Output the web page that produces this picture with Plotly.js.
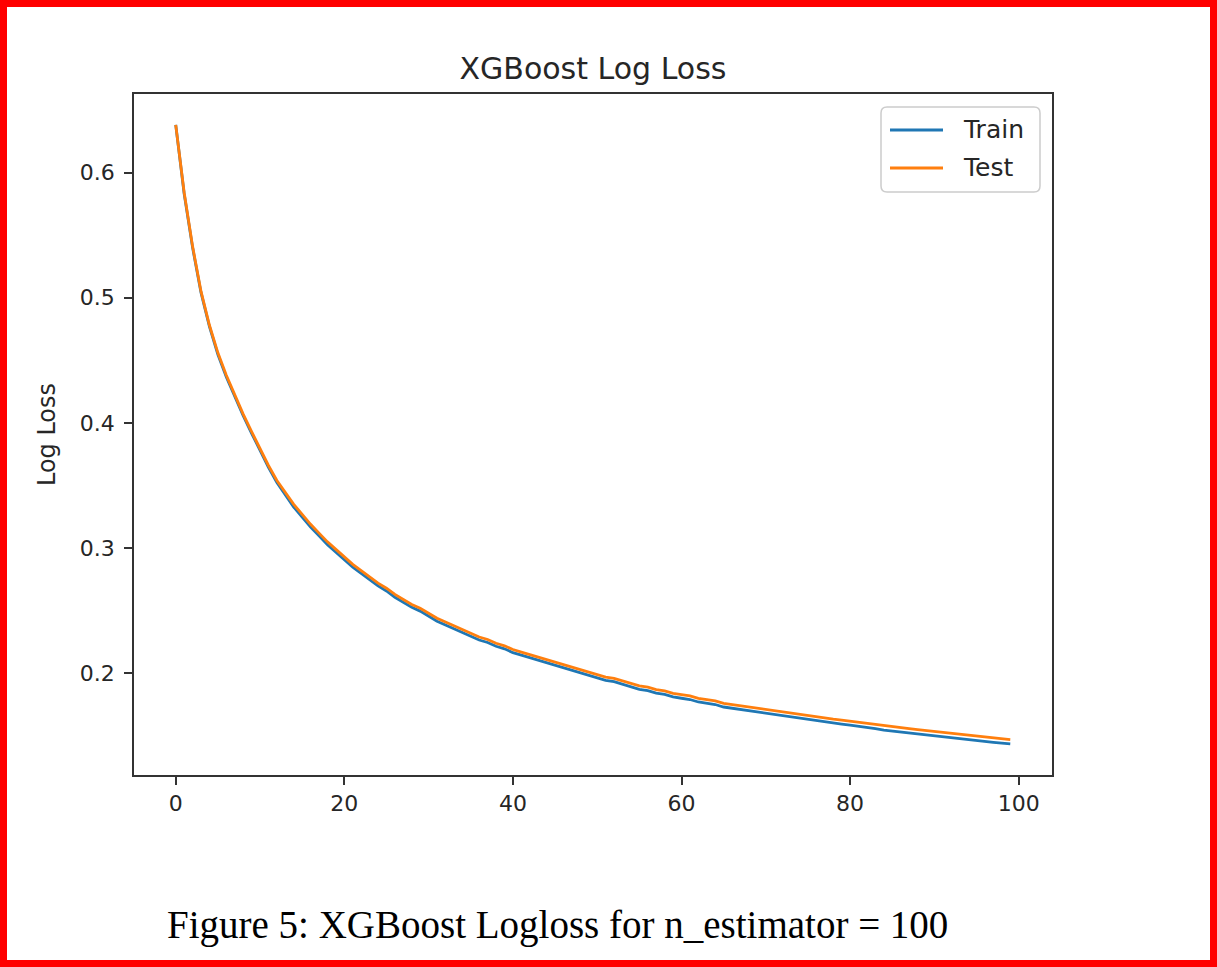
<!DOCTYPE html>
<html>
<head>
<meta charset="utf-8">
<script src="https://cdn.plot.ly/plotly-3.0.1.min.js"></script>
<style>
  html, body { margin: 0; padding: 0; background: #ffffff; }
  #wrap { position: relative; width: 1217px; height: 967px; overflow: hidden; }
  #chart { position: absolute; left: 0; top: 0; width: 1217px; height: 967px; }
  #frame { position: absolute; left: 0; top: 0; width: 1217px; height: 967px;
           box-sizing: border-box; border: 7px solid #ff0000; pointer-events: none; }
</style>
</head>
<body>
<div id="wrap">
  <div id="chart"></div>
  <div id="frame"></div>
</div>
<script>
// Boosting rounds 0..99
const rounds = Array.from({length: 100}, (_, i) => i);

// Log loss on the training set per round
const trainLoss = [
  0.638, 0.583, 0.540, 0.504, 0.477, 0.4547, 0.4367, 0.4207, 0.4057, 0.3917,
  0.3775, 0.3645, 0.3525, 0.3423, 0.3328, 0.3248, 0.3168, 0.3098, 0.3028, 0.2968,
  0.2908, 0.2848, 0.2798, 0.2748, 0.2698, 0.2658, 0.2608, 0.2568, 0.2527, 0.2497,
  0.2457, 0.2416, 0.2386, 0.2356, 0.2326, 0.2296, 0.2266, 0.2246, 0.2216, 0.2196,
  0.2165, 0.2145, 0.2125, 0.2105, 0.2085, 0.2065, 0.2045, 0.2024, 0.2004, 0.1984,
  0.1964, 0.1944, 0.1934, 0.1912, 0.1892, 0.1872, 0.1862, 0.1842, 0.1832, 0.1812,
  0.1801, 0.1791, 0.1771, 0.1761, 0.1751, 0.1731, 0.1721, 0.1711, 0.1701, 0.1691,
  0.1680, 0.1670, 0.1660, 0.1650, 0.1640, 0.1630, 0.1619, 0.1609, 0.1603, 0.1595,
  0.1586, 0.1578, 0.1568, 0.1558, 0.1547, 0.1539, 0.1532, 0.1525, 0.1516, 0.1509,
  0.1501, 0.1494, 0.1486, 0.1478, 0.1471, 0.1463, 0.1456, 0.1449, 0.1442, 0.1436
];

// Log loss on the held-out test set per round
const testLoss = [
  0.638, 0.584, 0.541, 0.505, 0.478, 0.456, 0.438, 0.422, 0.407, 0.393,
  0.379, 0.366, 0.354, 0.344, 0.335, 0.327, 0.319, 0.312, 0.305, 0.299,
  0.293, 0.287, 0.282, 0.277, 0.272, 0.268, 0.263, 0.259, 0.255, 0.252,
  0.248, 0.244, 0.241, 0.238, 0.235, 0.232, 0.229, 0.227, 0.224, 0.222,
  0.219, 0.217, 0.215, 0.213, 0.211, 0.209, 0.207, 0.205, 0.203, 0.201,
  0.199, 0.197, 0.196, 0.194, 0.192, 0.190, 0.189, 0.187, 0.186, 0.184,
  0.183, 0.182, 0.180, 0.179, 0.178, 0.176, 0.175, 0.174, 0.173, 0.172,
  0.171, 0.170, 0.169, 0.168, 0.167, 0.166, 0.165, 0.164, 0.1635, 0.1627,
  0.1618, 0.1610, 0.1600, 0.1590, 0.1580, 0.1572, 0.1565, 0.1558, 0.1550, 0.1543,
  0.1536, 0.1528, 0.1520, 0.1513, 0.1506, 0.1499, 0.1492, 0.1485, 0.1478, 0.1471
];

const xTicks = [0, 20, 40, 60, 80, 100];
const yTicks = [0.2, 0.3, 0.4, 0.5, 0.6];

const seriesNames = ['Train', 'Test'];
const seriesColors = ['#1f77b4', '#ff7f0e'];

const chartTitle = 'XGBoost Log Loss';
const yTitle = 'Log Loss';
const caption = 'Figure 5: XGBoost Logloss for n_estimator = 100';

const sans = 'DejaVu Sans, sans-serif';
const ink = '#262626';

// Plot-area geometry in pixels, used to place the hand-built legend
const W = 1217, H = 967;
const M = {l: 134, r: 165, t: 94, b: 192};
const plotW = W - M.l - M.r;
const plotH = H - M.t - M.b;
const px = x => (x - M.l) / plotW;          // page x -> paper x
const py = y => (H - M.b - y) / plotH;      // page y -> paper y

const traces = [trainLoss, testLoss].map((vals, k) => ({
  type: 'scatter',
  mode: 'lines',
  x: rounds,
  y: vals,
  name: seriesNames[k],
  line: {color: seriesColors[k], width: 2.8, shape: 'linear'},
  hoverinfo: 'x+y+name'
}));

const axisCommon = {
  showline: true,
  mirror: true,
  linecolor: '#333333',
  linewidth: 1.6,
  ticks: 'outside',
  ticklen: 8,
  tickwidth: 1.6,
  tickcolor: '#333333',
  showgrid: false,
  zeroline: false,
  tickfont: {family: sans, size: 22, color: ink}
};

// Legend box with rounded corners, drawn as a path
const box = {x0: 881, x1: 1040, y0: 107, y1: 192, r: 6};
function roundedBox(b) {
  const X0 = px(b.x0), X1 = px(b.x1), Y0 = py(b.y1), Y1 = py(b.y0);
  const rx = b.r / plotW, ry = b.r / plotH;
  return `M${X0 + rx},${Y0} L${X1 - rx},${Y0} Q${X1},${Y0} ${X1},${Y0 + ry} ` +
         `L${X1},${Y1 - ry} Q${X1},${Y1} ${X1 - rx},${Y1} ` +
         `L${X0 + rx},${Y1} Q${X0},${Y1} ${X0},${Y1 - ry} ` +
         `L${X0},${Y0 + ry} Q${X0},${Y0} ${X0 + rx},${Y0} Z`;
}

const legendRows = [130, 168];
const shapes = [{
  type: 'path', xref: 'paper', yref: 'paper',
  path: roundedBox(box),
  line: {color: '#cccccc', width: 1.5},
  fillcolor: 'rgba(255,255,255,0.85)',
  layer: 'above'
}].concat(seriesNames.map((n, k) => ({
  type: 'line', xref: 'paper', yref: 'paper',
  x0: px(890), x1: px(943), y0: py(legendRows[k]), y1: py(legendRows[k]),
  line: {color: seriesColors[k], width: 2.8},
  layer: 'above'
})));

const annotations = seriesNames.map((n, k) => ({
  text: n,
  xref: 'paper', yref: 'paper',
  x: px(961), y: py(legendRows[k]),
  xanchor: 'left', yanchor: 'middle',
  showarrow: false,
  font: {family: sans, size: 25, color: ink}
})).concat([{
  text: caption,
  xref: 'paper', yref: 'paper',
  x: px(557), y: py(925),
  xanchor: 'center', yanchor: 'middle',
  showarrow: false,
  font: {family: 'Liberation Serif, Times New Roman, serif', size: 39, color: '#000000'}
}]);

const layout = {
  width: W,
  height: H,
  paper_bgcolor: '#ffffff',
  plot_bgcolor: '#ffffff',
  margin: M,
  showlegend: false,
  title: {
    text: chartTitle,
    font: {family: sans, size: 30, color: ink},
    x: 0.5, xref: 'paper', xanchor: 'center',
    y: 1, yref: 'paper', yanchor: 'bottom',
    pad: {b: 15}
  },
  xaxis: Object.assign({}, axisCommon, {
    range: [-4.95, 103.95],
    tickmode: 'array',
    tickvals: xTicks,
    ticktext: xTicks.map(String)
  }),
  yaxis: Object.assign({}, axisCommon, {
    range: [0.1188, 0.6627],
    tickmode: 'array',
    tickvals: yTicks,
    ticktext: yTicks.map(v => v.toFixed(1)),
    ticklabelstandoff: 5,
    title: {text: yTitle, font: {family: sans, size: 24, color: ink}, standoff: 17}
  }),
  shapes: shapes,
  annotations: annotations
};

Plotly.newPlot('chart', traces, layout, {displayModeBar: false});
</script>
</body>
</html>
